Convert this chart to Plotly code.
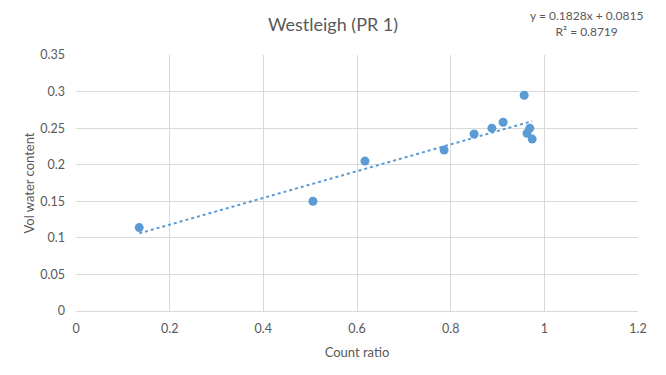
import plotly.graph_objects as go

count_ratio = [0.135, 0.506, 0.617, 0.786, 0.850, 0.888, 0.912, 0.957, 0.969, 0.963, 0.974]
vol_water = [0.114, 0.150, 0.205, 0.220, 0.242, 0.250, 0.258, 0.295, 0.250, 0.243, 0.235]
slope = 0.1828
intercept = 0.0815
r2 = 0.8719

xt = [min(count_ratio), max(count_ratio)]
yt = [slope * v + intercept for v in xt]

FONT = "Lato, Open Sans, sans-serif"
GREY = "#595959"

fig = go.Figure()
fig.add_trace(go.Scatter(x=count_ratio, y=vol_water, mode="markers",
                         marker=dict(color="#5b9bd5", size=9), showlegend=False))
fig.add_trace(go.Scatter(x=xt, y=yt, mode="lines",
                         line=dict(color="#5b9bd5", width=2, dash="dot"), showlegend=False))

fig.update_layout(
    width=666, height=375,
    margin=dict(l=76, r=28, t=55, b=64),
    paper_bgcolor="white", plot_bgcolor="white",
    font=dict(family=FONT, color=GREY, size=12),
    title=dict(text="Westleigh (PR 1)", x=0.5, xanchor="center", y=0.935, yanchor="middle",
               font=dict(size=18, color=GREY, family=FONT)),
    xaxis=dict(range=[0, 1.2], dtick=0.2, tick0=0, showgrid=True, gridcolor="#d9d9d9",
               zeroline=False, showline=True, linecolor="#d9d9d9",
               ticks="", ticklabelstandoff=6, tickfont=dict(size=12.5, color=GREY),
               title=dict(text="Count ratio", font=dict(size=13, color=GREY), standoff=12)),
    yaxis=dict(range=[0, 0.35], dtick=0.05, tick0=0, showgrid=True, gridcolor="#d9d9d9",
               zeroline=False, showline=False, ticks="", ticklabelstandoff=10,
               tickfont=dict(size=12.5, color=GREY),
               title=dict(text="Vol water content", font=dict(size=13, color=GREY), standoff=2)),
)
fig.add_annotation(text=f"y = {slope}x + {intercept}<br>R² = {r2}", xref="paper", yref="paper",
                   x=0.909, y=1.125, xanchor="center", yanchor="middle", showarrow=False,
                   align="center", font=dict(size=12, color=GREY, family=FONT))

fig.write_html("out.html")
